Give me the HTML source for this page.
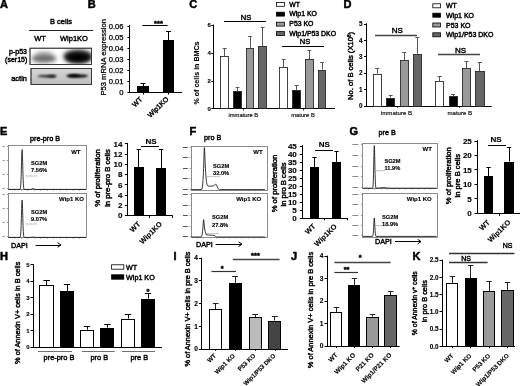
<!DOCTYPE html>
<html lang="en"><head><meta charset="utf-8"><title>Figure</title>
<style>
html,body{margin:0;padding:0;background:#fff;}
body{width:520px;height:386px;overflow:hidden;font-family:"Liberation Sans", Arial, sans-serif;}
svg{display:block;filter:blur(0.3px);}
text{stroke:#000;stroke-width:.42px;}
text[font-weight=bold]{stroke-width:.12px;}
text.thin{stroke-width:.15px;}
text.m{stroke-width:.25px;}
text.pl{stroke-width:.5px;}
text.st{stroke-width:.45px;}
</style></head><body>
<svg width="520" height="386" viewBox="0 0 520 386" font-family='"Liberation Sans", Arial, sans-serif'>
<defs><filter id="b1" x="-20%" y="-50%" width="140%" height="200%"><feGaussianBlur stdDeviation="2"/></filter><filter id="b2" x="-20%" y="-80%" width="140%" height="260%"><feGaussianBlur stdDeviation="0.9"/></filter><clipPath id="c1"><rect x="30" y="48" width="62" height="17"/></clipPath><clipPath id="c2"><rect x="31" y="68.4" width="61" height="16"/></clipPath></defs>
<rect width="520" height="386" fill="#fff"/>
<text x="0" y="8.3" font-size="11" text-anchor="start" font-weight="bold" fill="#000" class="pl">A</text>
<text x="87.8" y="8.3" font-size="11" text-anchor="start" font-weight="bold" fill="#000" class="pl">B</text>
<text x="189.2" y="8.3" font-size="11" text-anchor="start" font-weight="bold" fill="#000" class="pl">C</text>
<text x="343.5" y="8.3" font-size="11" text-anchor="start" font-weight="bold" fill="#000" class="pl">D</text>
<text x="0" y="134.5" font-size="11" text-anchor="start" font-weight="bold" fill="#000" class="pl">E</text>
<text x="189.5" y="134.5" font-size="11" text-anchor="start" font-weight="bold" fill="#000" class="pl">F</text>
<text x="349.5" y="135.1" font-size="11" text-anchor="start" font-weight="bold" fill="#000" class="pl">G</text>
<text x="0" y="260" font-size="11" text-anchor="start" font-weight="bold" fill="#000" class="pl">H</text>
<text x="173.5" y="259.5" font-size="11" text-anchor="start" font-weight="bold" fill="#000" class="pl">I</text>
<text x="291" y="260" font-size="11" text-anchor="start" font-weight="bold" fill="#000" class="pl">J</text>
<text x="412.5" y="260" font-size="11" text-anchor="start" font-weight="bold" fill="#000" class="pl">K</text>
<text x="61" y="23.7" font-size="7.5" text-anchor="middle" font-weight="normal" fill="#000">B cells</text>
<line x1="29" y1="30.5" x2="93" y2="30.5" stroke="#222" stroke-width="1"/>
<text x="40" y="40.6" font-size="7.5" text-anchor="middle" font-weight="normal" fill="#000">WT</text>
<text x="74" y="40.6" font-size="7.5" text-anchor="middle" font-weight="normal" fill="#000">Wip1KO</text>
<text x="27" y="54.1" font-size="7" text-anchor="end" font-weight="normal" fill="#000">p-p53</text>
<text x="27.3" y="62.3" font-size="7" text-anchor="end" font-weight="normal" fill="#000">(ser15)</text>
<text x="27" y="80.5" font-size="7.5" text-anchor="end" font-weight="normal" fill="#000">actin</text>
<rect x="30" y="48.2" width="61.6" height="16.3" fill="#fff" stroke="#333" stroke-width="0.8"/>
<g clip-path="url(#c1)"><ellipse cx="44" cy="54" rx="9" ry="2.5" fill="#bbb" filter="url(#b1)"/><ellipse cx="44" cy="58.5" rx="12.5" ry="4.3" fill="#6a6a6a" filter="url(#b1)"/><ellipse cx="78" cy="56.5" rx="14.5" ry="7" fill="#333" filter="url(#b1)"/><ellipse cx="78" cy="57.5" rx="12" ry="4.5" fill="#000" filter="url(#b1)"/></g>
<rect x="30" y="48.2" width="61.6" height="16.3" fill="none" stroke="#333" stroke-width="0.8"/>
<linearGradient id="g2" x1="0" y1="0" x2="0" y2="1"><stop offset="0" stop-color="#d6d6d6"/><stop offset="1" stop-color="#bdbdbd"/></linearGradient>
<rect x="31" y="68.4" width="60.6" height="16" fill="url(#g2)" stroke="#333" stroke-width="0.8"/>
<g clip-path="url(#c2)"><ellipse cx="47" cy="76.2" rx="9.5" ry="1.2" fill="#222" filter="url(#b2)"/><ellipse cx="52" cy="76.3" rx="4" ry="1.1" fill="#111" filter="url(#b2)"/><ellipse cx="77" cy="76" rx="11" ry="1.6" fill="#000" filter="url(#b2)"/><ellipse cx="74" cy="75.6" rx="6" ry="1.3" fill="#000" filter="url(#b2)"/></g>
<rect x="31" y="68.4" width="60.6" height="16" fill="none" stroke="#333" stroke-width="0.8"/>
<line x1="129.5" y1="25.1" x2="129.5" y2="92.4" stroke="#000" stroke-width="1"/>
<line x1="127.4" y1="26.5" x2="129.4" y2="26.5" stroke="#000" stroke-width="1"/>
<text x="123.5" y="28.736" font-size="7.6" text-anchor="end" font-weight="normal" fill="#000" class="m">0.06</text>
<line x1="127.4" y1="37.5" x2="129.4" y2="37.5" stroke="#000" stroke-width="1"/>
<text x="123.5" y="39.736" font-size="7.6" text-anchor="end" font-weight="normal" fill="#000" class="m">0.05</text>
<line x1="127.4" y1="48.5" x2="129.4" y2="48.5" stroke="#000" stroke-width="1"/>
<text x="123.5" y="50.736" font-size="7.6" text-anchor="end" font-weight="normal" fill="#000" class="m">0.04</text>
<line x1="127.4" y1="59.5" x2="129.4" y2="59.5" stroke="#000" stroke-width="1"/>
<text x="123.5" y="61.736" font-size="7.6" text-anchor="end" font-weight="normal" fill="#000" class="m">0.03</text>
<line x1="127.4" y1="70.5" x2="129.4" y2="70.5" stroke="#000" stroke-width="1"/>
<text x="123.5" y="72.736" font-size="7.6" text-anchor="end" font-weight="normal" fill="#000" class="m">0.02</text>
<line x1="127.4" y1="81.5" x2="129.4" y2="81.5" stroke="#000" stroke-width="1"/>
<text x="123.5" y="83.736" font-size="7.6" text-anchor="end" font-weight="normal" fill="#000" class="m">0.01</text>
<line x1="127.4" y1="92.5" x2="129.4" y2="92.5" stroke="#000" stroke-width="1"/>
<text x="123.5" y="94.736" font-size="7.6" text-anchor="end" font-weight="normal" fill="#000" class="m">0</text>
<line x1="129" y1="92.5" x2="182" y2="92.5" stroke="#000" stroke-width="1"/>
<line x1="143.5" y1="92" x2="143.5" y2="94.5" stroke="#000" stroke-width="1"/>
<line x1="168.5" y1="92" x2="168.5" y2="94.5" stroke="#000" stroke-width="1"/>
<line x1="143.5" y1="86.4" x2="143.5" y2="83.4" stroke="#000" stroke-width="1"/>
<line x1="140.48" y1="83.5" x2="145.52" y2="83.5" stroke="#000" stroke-width="1"/>
<rect x="137.5" y="86.5" width="11.0" height="6.0" fill="#000" stroke="#000" stroke-width="1"/>
<line x1="168.5" y1="40" x2="168.5" y2="31" stroke="#000" stroke-width="1"/>
<line x1="166.025" y1="31.5" x2="170.975" y2="31.5" stroke="#000" stroke-width="1"/>
<rect x="163.5" y="40.5" width="10.0" height="52.0" fill="#000" stroke="#000" stroke-width="1"/>
<line x1="142.4" y1="25.5" x2="167.6" y2="25.5" stroke="#000" stroke-width="1"/>
<text x="158.5" y="26.4" font-size="7.5" text-anchor="middle" font-weight="bold" fill="#000" class="st">***</text>
<text x="103.3" y="57.3" font-size="7.6" text-anchor="middle" font-weight="normal" transform="rotate(-90 103.3 57.3)" dy="2.74" class="m">P53 mRNA expression</text>
<text x="142.7" y="99.8" font-size="7" text-anchor="end" font-weight="normal" transform="rotate(-45 142.7 99.8)">WT</text>
<text x="169" y="99.6" font-size="7" text-anchor="end" font-weight="normal" transform="rotate(-45 169 99.6)">Wip1KO</text>
<line x1="213.5" y1="24.6" x2="213.5" y2="109.0" stroke="#000" stroke-width="1"/>
<line x1="211.3" y1="25.5" x2="213.3" y2="25.5" stroke="#000" stroke-width="1"/>
<text x="210.8" y="27.16" font-size="6" text-anchor="end" font-weight="bold" fill="#000">6</text>
<line x1="211.3" y1="53.5" x2="213.3" y2="53.5" stroke="#000" stroke-width="1"/>
<text x="210.8" y="55.16" font-size="6" text-anchor="end" font-weight="bold" fill="#000">4</text>
<line x1="211.3" y1="81.5" x2="213.3" y2="81.5" stroke="#000" stroke-width="1"/>
<text x="210.8" y="83.16" font-size="6" text-anchor="end" font-weight="bold" fill="#000">2</text>
<line x1="211.3" y1="108.5" x2="213.3" y2="108.5" stroke="#000" stroke-width="1"/>
<text x="210.8" y="110.75999999999999" font-size="6" text-anchor="end" font-weight="bold" fill="#000">0</text>
<line x1="212.2" y1="108.5" x2="335" y2="108.5" stroke="#000" stroke-width="1"/>
<line x1="243.5" y1="108.6" x2="243.5" y2="110.6" stroke="#000" stroke-width="0.7"/>
<line x1="303.5" y1="108.6" x2="303.5" y2="110.6" stroke="#000" stroke-width="0.7"/>
<line x1="224.5" y1="56" x2="224.5" y2="48" stroke="#555" stroke-width="1"/>
<line x1="222.765" y1="48.5" x2="226.635" y2="48.5" stroke="#555" stroke-width="1"/>
<rect x="220.5" y="56.5" width="8.0" height="52.0" fill="#fff" stroke="#222" stroke-width="0.85"/>
<line x1="237.5" y1="91" x2="237.5" y2="87.6" stroke="#555" stroke-width="1"/>
<line x1="235.655" y1="87.5" x2="239.345" y2="87.5" stroke="#555" stroke-width="1"/>
<rect x="233.5" y="91.5" width="8.0" height="17.0" fill="#000" stroke="#222" stroke-width="0.85"/>
<line x1="250.5" y1="47.6" x2="250.5" y2="36" stroke="#555" stroke-width="1"/>
<line x1="248.02" y1="36.5" x2="251.98" y2="36.5" stroke="#555" stroke-width="1"/>
<rect x="246.5" y="48.5" width="7.0" height="60.0" fill="#999" stroke="#222" stroke-width="0.85"/>
<line x1="262.5" y1="46.4" x2="262.5" y2="27.6" stroke="#555" stroke-width="1"/>
<line x1="260.765" y1="27.5" x2="264.635" y2="27.5" stroke="#555" stroke-width="1"/>
<rect x="258.5" y="46.5" width="8.0" height="62.0" fill="#666" stroke="#222" stroke-width="0.85"/>
<line x1="283.5" y1="67" x2="283.5" y2="59" stroke="#555" stroke-width="1"/>
<line x1="281.765" y1="59.5" x2="285.635" y2="59.5" stroke="#555" stroke-width="1"/>
<rect x="279.5" y="67.5" width="8.0" height="41.0" fill="#fff" stroke="#222" stroke-width="0.85"/>
<line x1="296.5" y1="90" x2="296.5" y2="85.6" stroke="#555" stroke-width="1"/>
<line x1="294.765" y1="85.5" x2="298.635" y2="85.5" stroke="#555" stroke-width="1"/>
<rect x="292.5" y="90.5" width="8.0" height="18.0" fill="#000" stroke="#222" stroke-width="0.85"/>
<line x1="309.5" y1="59" x2="309.5" y2="50.4" stroke="#555" stroke-width="1"/>
<line x1="307.365" y1="50.5" x2="311.235" y2="50.5" stroke="#555" stroke-width="1"/>
<rect x="305.5" y="59.5" width="8.0" height="49.0" fill="#999" stroke="#222" stroke-width="0.85"/>
<line x1="322.5" y1="69.6" x2="322.5" y2="62" stroke="#555" stroke-width="1"/>
<line x1="320.02" y1="62.5" x2="323.98" y2="62.5" stroke="#555" stroke-width="1"/>
<rect x="318.5" y="70.5" width="7.0" height="38.0" fill="#666" stroke="#222" stroke-width="0.85"/>
<line x1="224" y1="21.5" x2="266" y2="21.5" stroke="#000" stroke-width="1"/>
<text x="246" y="19.6" font-size="7.5" text-anchor="middle" font-weight="normal" fill="#000">NS</text>
<line x1="282" y1="46.5" x2="324" y2="46.5" stroke="#000" stroke-width="1"/>
<text x="305" y="44.4" font-size="7.5" text-anchor="middle" font-weight="normal" fill="#000">NS</text>
<text x="243.3" y="117" font-size="5.8" text-anchor="middle" font-weight="normal" fill="#000" class="thin">immature B</text>
<text x="303" y="117" font-size="5.8" text-anchor="middle" font-weight="normal" fill="#000" class="thin">mature B</text>
<text x="196.9" y="73" font-size="7.1" text-anchor="middle" font-weight="bold" transform="rotate(-90 196.9 73)" dy="2.56">% of cells in BMCs</text>
<rect x="276.4" y="2.4" width="8" height="3.9" fill="#fff" stroke="#000" stroke-width="0.8"/>
<text x="289.3" y="6.6" font-size="6.9" text-anchor="start" font-weight="normal" fill="#000">WT</text>
<rect x="276.4" y="12.2" width="8" height="3.9" fill="#000" stroke="#000" stroke-width="0.8"/>
<text x="289.3" y="16.4" font-size="6.9" text-anchor="start" font-weight="normal" fill="#000">Wip1 KO</text>
<rect x="276.4" y="22.2" width="8" height="3.9" fill="#999" stroke="#000" stroke-width="0.8"/>
<text x="289.3" y="26.3" font-size="6.9" text-anchor="start" font-weight="normal" fill="#000">P53 KO</text>
<rect x="276.4" y="31.6" width="8" height="3.9" fill="#666" stroke="#000" stroke-width="0.8"/>
<text x="289.3" y="35.6" font-size="6.9" text-anchor="start" font-weight="normal" fill="#000">Wip1/P53 DKO</text>
<line x1="366.5" y1="23.200000000000003" x2="366.5" y2="106.4" stroke="#000" stroke-width="1"/>
<line x1="364" y1="24.5" x2="366" y2="24.5" stroke="#000" stroke-width="1"/>
<text x="362.4" y="26.268" font-size="6.3" text-anchor="end" font-weight="bold" fill="#000">5</text>
<line x1="364" y1="40.5" x2="366" y2="40.5" stroke="#000" stroke-width="1"/>
<text x="362.4" y="42.668" font-size="6.3" text-anchor="end" font-weight="bold" fill="#000">4</text>
<line x1="364" y1="56.5" x2="366" y2="56.5" stroke="#000" stroke-width="1"/>
<text x="362.4" y="59.068" font-size="6.3" text-anchor="end" font-weight="bold" fill="#000">3</text>
<line x1="364" y1="73.5" x2="366" y2="73.5" stroke="#000" stroke-width="1"/>
<text x="362.4" y="75.46799999999999" font-size="6.3" text-anchor="end" font-weight="bold" fill="#000">2</text>
<line x1="364" y1="89.5" x2="366" y2="89.5" stroke="#000" stroke-width="1"/>
<text x="362.4" y="91.868" font-size="6.3" text-anchor="end" font-weight="bold" fill="#000">1</text>
<line x1="364" y1="106.5" x2="366" y2="106.5" stroke="#000" stroke-width="1"/>
<text x="362.4" y="108.268" font-size="6.3" text-anchor="end" font-weight="bold" fill="#000">0</text>
<line x1="365.6" y1="106.5" x2="491.6" y2="106.5" stroke="#000" stroke-width="1"/>
<line x1="397.5" y1="106" x2="397.5" y2="108" stroke="#000" stroke-width="0.7"/>
<line x1="459.5" y1="106" x2="459.5" y2="108" stroke="#000" stroke-width="0.7"/>
<line x1="377.5" y1="73.5" x2="377.5" y2="68.4" stroke="#555" stroke-width="1"/>
<line x1="375.085" y1="68.5" x2="379.315" y2="68.5" stroke="#555" stroke-width="1"/>
<rect x="373.5" y="74.5" width="8.0" height="32.0" fill="#fff" stroke="#222" stroke-width="0.85"/>
<line x1="390.5" y1="97.6" x2="390.5" y2="95.6" stroke="#555" stroke-width="1"/>
<line x1="388.765" y1="95.5" x2="392.635" y2="95.5" stroke="#555" stroke-width="1"/>
<rect x="386.5" y="98.5" width="8.0" height="8.0" fill="#000" stroke="#222" stroke-width="0.85"/>
<line x1="404.5" y1="60" x2="404.5" y2="52" stroke="#555" stroke-width="1"/>
<line x1="402.05749999999995" y1="52.5" x2="406.2425" y2="52.5" stroke="#555" stroke-width="1"/>
<rect x="400.5" y="60.5" width="8.0" height="46.0" fill="#999" stroke="#222" stroke-width="0.85"/>
<line x1="417.5" y1="53.6" x2="417.5" y2="37" stroke="#555" stroke-width="1"/>
<line x1="415.41999999999996" y1="37.5" x2="419.38" y2="37.5" stroke="#555" stroke-width="1"/>
<rect x="413.5" y="54.5" width="8.0" height="52.0" fill="#666" stroke="#222" stroke-width="0.85"/>
<line x1="439.5" y1="81" x2="439.5" y2="76" stroke="#555" stroke-width="1"/>
<line x1="437.585" y1="76.5" x2="441.815" y2="76.5" stroke="#555" stroke-width="1"/>
<rect x="435.5" y="81.5" width="8.0" height="25.0" fill="#fff" stroke="#222" stroke-width="0.85"/>
<line x1="453.5" y1="96.4" x2="453.5" y2="94.4" stroke="#555" stroke-width="1"/>
<line x1="451.07500000000005" y1="94.5" x2="455.125" y2="94.5" stroke="#555" stroke-width="1"/>
<rect x="449.5" y="96.5" width="8.0" height="10.0" fill="#000" stroke="#222" stroke-width="0.85"/>
<line x1="466.5" y1="68.4" x2="466.5" y2="61.2" stroke="#555" stroke-width="1"/>
<line x1="464.475" y1="61.5" x2="468.525" y2="61.5" stroke="#555" stroke-width="1"/>
<rect x="462.5" y="68.5" width="8.0" height="38.0" fill="#999" stroke="#222" stroke-width="0.85"/>
<line x1="479.5" y1="71" x2="479.5" y2="62.6" stroke="#555" stroke-width="1"/>
<line x1="477.78499999999997" y1="62.5" x2="482.015" y2="62.5" stroke="#555" stroke-width="1"/>
<rect x="475.5" y="71.5" width="9.0" height="35.0" fill="#666" stroke="#222" stroke-width="0.85"/>
<line x1="375" y1="35.5" x2="417" y2="35.5" stroke="#444" stroke-width="1.5"/>
<text x="397.4" y="32.8" font-size="8" text-anchor="middle" font-weight="normal" fill="#000">NS</text>
<line x1="438" y1="54.5" x2="480" y2="54.5" stroke="#444" stroke-width="1.5"/>
<text x="460.6" y="53.2" font-size="8" text-anchor="middle" font-weight="normal" fill="#000">NS</text>
<text x="396.5" y="114.6" font-size="6.1" text-anchor="middle" font-weight="normal" fill="#000" class="thin">immature B</text>
<text x="459.8" y="114.6" font-size="6.1" text-anchor="middle" font-weight="normal" fill="#000" class="thin">mature B</text>
<text x="350.8" y="66" font-size="7.6" text-anchor="middle" transform="rotate(-90 350.8 66)" dy="2.6">No. of B cells (X10<tspan font-size="4.5" dy="-2.5">6</tspan><tspan dy="2.5">)</tspan></text>
<rect x="432.8" y="3.8" width="7.8" height="4" fill="#fff" stroke="#000" stroke-width="0.8"/>
<text x="446" y="8.1" font-size="7" text-anchor="start" font-weight="normal" fill="#000">WT</text>
<rect x="432.8" y="13.2" width="7.8" height="4" fill="#000" stroke="#000" stroke-width="0.8"/>
<text x="446" y="17.6" font-size="7" text-anchor="start" font-weight="normal" fill="#000">Wip1 KO</text>
<rect x="432.8" y="23" width="7.8" height="4" fill="#999" stroke="#000" stroke-width="0.8"/>
<text x="446" y="27.5" font-size="7" text-anchor="start" font-weight="normal" fill="#000">P53 KO</text>
<rect x="432.8" y="32.8" width="7.8" height="4" fill="#666" stroke="#000" stroke-width="0.8"/>
<text x="446" y="37.1" font-size="7" text-anchor="start" font-weight="normal" fill="#000">Wip1/P53 DKO</text>
<text x="45" y="140.5" font-size="7.2" text-anchor="middle" font-weight="normal" fill="#000">pre-pro B</text>
<rect x="8.5" y="145.5" width="78" height="44" fill="#fff" stroke="#808080" stroke-width="0.9"/>
<line x1="2.5" y1="146.5" x2="4.8" y2="146.5" stroke="#999" stroke-width="1"/>
<line x1="6.6" y1="146.5" x2="8" y2="146.5" stroke="#666" stroke-width="0.6"/>
<line x1="2.5" y1="160.5" x2="4.8" y2="160.5" stroke="#999" stroke-width="1"/>
<line x1="6.6" y1="160.5" x2="8" y2="160.5" stroke="#666" stroke-width="0.6"/>
<line x1="2.5" y1="174.5" x2="4.8" y2="174.5" stroke="#999" stroke-width="1"/>
<line x1="6.6" y1="174.5" x2="8" y2="174.5" stroke="#666" stroke-width="0.6"/>
<line x1="2.5" y1="188.5" x2="4.8" y2="188.5" stroke="#999" stroke-width="1"/>
<line x1="6.6" y1="188.5" x2="8" y2="188.5" stroke="#666" stroke-width="0.6"/>
<line x1="14.5" y1="190" x2="14.5" y2="191" stroke="#777" stroke-width="0.5"/>
<line x1="21.5" y1="190" x2="21.5" y2="191" stroke="#777" stroke-width="0.5"/>
<line x1="27.5" y1="190" x2="27.5" y2="191" stroke="#777" stroke-width="0.5"/>
<line x1="34.5" y1="190" x2="34.5" y2="191" stroke="#777" stroke-width="0.5"/>
<line x1="40.5" y1="190" x2="40.5" y2="191" stroke="#777" stroke-width="0.5"/>
<line x1="47.5" y1="190" x2="47.5" y2="191" stroke="#777" stroke-width="0.5"/>
<line x1="53.5" y1="190" x2="53.5" y2="191" stroke="#777" stroke-width="0.5"/>
<line x1="60.5" y1="190" x2="60.5" y2="191" stroke="#777" stroke-width="0.5"/>
<line x1="66.5" y1="190" x2="66.5" y2="191" stroke="#777" stroke-width="0.5"/>
<line x1="73.5" y1="190" x2="73.5" y2="191" stroke="#777" stroke-width="0.5"/>
<line x1="79.5" y1="190" x2="79.5" y2="191" stroke="#777" stroke-width="0.5"/>
<path d="M8.5 189.4 L20.1 189.4 C21.35 189.4 21.5375 149.6 22.1 149.6 C22.6625 149.6 22.85 189.4 24.1 189.4 L31 189.4 Q33 187.8 35.5 189.4 L86 189.4" fill="none" stroke="#111" stroke-width="0.85" stroke-linejoin="round"/>
<line x1="25.6" y1="176" x2="37" y2="176" stroke="#888" stroke-width="0.6" stroke-dasharray="3 0.4"/>
<text x="80.5" y="153.8" font-size="6" text-anchor="end" font-weight="bold" fill="#000">WT</text>
<text x="31" y="165" font-size="5.7" text-anchor="start" font-weight="bold" fill="#000">SG2M</text>
<text x="31" y="172.2" font-size="5.7" text-anchor="start" font-weight="bold" fill="#000">7.56%</text>
<rect x="8.5" y="193.5" width="78" height="44" fill="#fff" stroke="#808080" stroke-width="0.9"/>
<line x1="2.5" y1="194.5" x2="4.8" y2="194.5" stroke="#999" stroke-width="1"/>
<line x1="6.6" y1="194.5" x2="8" y2="194.5" stroke="#666" stroke-width="0.6"/>
<line x1="2.5" y1="208.5" x2="4.8" y2="208.5" stroke="#999" stroke-width="1"/>
<line x1="6.6" y1="208.5" x2="8" y2="208.5" stroke="#666" stroke-width="0.6"/>
<line x1="2.5" y1="222.5" x2="4.8" y2="222.5" stroke="#999" stroke-width="1"/>
<line x1="6.6" y1="222.5" x2="8" y2="222.5" stroke="#666" stroke-width="0.6"/>
<line x1="2.5" y1="236.5" x2="4.8" y2="236.5" stroke="#999" stroke-width="1"/>
<line x1="6.6" y1="236.5" x2="8" y2="236.5" stroke="#666" stroke-width="0.6"/>
<line x1="14.5" y1="238" x2="14.5" y2="239" stroke="#777" stroke-width="0.5"/>
<line x1="21.5" y1="238" x2="21.5" y2="239" stroke="#777" stroke-width="0.5"/>
<line x1="27.5" y1="238" x2="27.5" y2="239" stroke="#777" stroke-width="0.5"/>
<line x1="34.5" y1="238" x2="34.5" y2="239" stroke="#777" stroke-width="0.5"/>
<line x1="40.5" y1="238" x2="40.5" y2="239" stroke="#777" stroke-width="0.5"/>
<line x1="47.5" y1="238" x2="47.5" y2="239" stroke="#777" stroke-width="0.5"/>
<line x1="53.5" y1="238" x2="53.5" y2="239" stroke="#777" stroke-width="0.5"/>
<line x1="60.5" y1="238" x2="60.5" y2="239" stroke="#777" stroke-width="0.5"/>
<line x1="66.5" y1="238" x2="66.5" y2="239" stroke="#777" stroke-width="0.5"/>
<line x1="73.5" y1="238" x2="73.5" y2="239" stroke="#777" stroke-width="0.5"/>
<line x1="79.5" y1="238" x2="79.5" y2="239" stroke="#777" stroke-width="0.5"/>
<path d="M8.5 237.4 L20.1 237.4 C21.35 237.4 21.5375 200 22.1 200 C22.6625 200 22.85 237.4 24.1 237.4 L31 237.4 Q33 236.6 35.5 237.4 L86 237.4" fill="none" stroke="#111" stroke-width="0.85" stroke-linejoin="round"/>
<line x1="25.6" y1="224" x2="37" y2="224" stroke="#888" stroke-width="0.6" stroke-dasharray="3 0.4"/>
<text x="84" y="200.6" font-size="6" text-anchor="end" font-weight="bold" fill="#000">Wip1 KO</text>
<text x="31" y="213.6" font-size="5.7" text-anchor="start" font-weight="bold" fill="#000">SG2M</text>
<text x="31" y="220.79999999999998" font-size="5.7" text-anchor="start" font-weight="bold" fill="#000">9.07%</text>
<text x="11" y="247.6" font-size="7.2" text-anchor="start" font-weight="normal" fill="#000">DAPI</text>
<line x1="35.6" y1="245.5" x2="61" y2="245.5" stroke="#000" stroke-width="1"/>
<path d="M57.6 242.7 L61 245 L57.6 247.3" fill="none" stroke="#000" stroke-width="1"/>
<text x="212.6" y="140" font-size="7.2" text-anchor="middle" font-weight="normal" fill="#000">pro B</text>
<rect x="191.5" y="146.5" width="76" height="44" fill="#fff" stroke="#808080" stroke-width="0.9"/>
<line x1="183" y1="147.5" x2="187.8" y2="147.5" stroke="#555" stroke-width="1"/>
<line x1="189.6" y1="147.5" x2="191" y2="147.5" stroke="#666" stroke-width="0.6"/>
<line x1="183" y1="157.5" x2="187.8" y2="157.5" stroke="#555" stroke-width="1"/>
<line x1="189.6" y1="157.5" x2="191" y2="157.5" stroke="#666" stroke-width="0.6"/>
<line x1="183" y1="168.5" x2="187.8" y2="168.5" stroke="#555" stroke-width="1"/>
<line x1="189.6" y1="168.5" x2="191" y2="168.5" stroke="#666" stroke-width="0.6"/>
<line x1="183" y1="178.5" x2="187.8" y2="178.5" stroke="#555" stroke-width="1"/>
<line x1="189.6" y1="178.5" x2="191" y2="178.5" stroke="#666" stroke-width="0.6"/>
<line x1="183" y1="189.5" x2="187.8" y2="189.5" stroke="#555" stroke-width="1"/>
<line x1="189.6" y1="189.5" x2="191" y2="189.5" stroke="#666" stroke-width="0.6"/>
<line x1="197.5" y1="190.2" x2="197.5" y2="191.2" stroke="#777" stroke-width="0.5"/>
<line x1="203.5" y1="190.2" x2="203.5" y2="191.2" stroke="#777" stroke-width="0.5"/>
<line x1="210.5" y1="190.2" x2="210.5" y2="191.2" stroke="#777" stroke-width="0.5"/>
<line x1="216.5" y1="190.2" x2="216.5" y2="191.2" stroke="#777" stroke-width="0.5"/>
<line x1="222.5" y1="190.2" x2="222.5" y2="191.2" stroke="#777" stroke-width="0.5"/>
<line x1="229.5" y1="190.2" x2="229.5" y2="191.2" stroke="#777" stroke-width="0.5"/>
<line x1="235.5" y1="190.2" x2="235.5" y2="191.2" stroke="#777" stroke-width="0.5"/>
<line x1="241.5" y1="190.2" x2="241.5" y2="191.2" stroke="#777" stroke-width="0.5"/>
<line x1="248.5" y1="190.2" x2="248.5" y2="191.2" stroke="#777" stroke-width="0.5"/>
<line x1="254.5" y1="190.2" x2="254.5" y2="191.2" stroke="#777" stroke-width="0.5"/>
<line x1="260.5" y1="190.2" x2="260.5" y2="191.2" stroke="#777" stroke-width="0.5"/>
<path d="M191.5 189.6 L201.6 189.6 C203.6 189.6 203.95 147.6 204.4 147.6 C204.85 147.6 205.2 181 207.4 185.6 C209 186.6 212 186 213.5 185.8 C214.6 185.4 215 184.2 215.8 184.2 C217 184.2 217.4 189.6 219.4 189.6 L265 189.6" fill="none" stroke="#111" stroke-width="0.85" stroke-linejoin="round"/>
<line x1="207" y1="176.6" x2="220" y2="176.6" stroke="#888" stroke-width="0.6" stroke-dasharray="3 0.4"/>
<text x="262.6" y="153.8" font-size="6" text-anchor="end" font-weight="bold" fill="#000">WT</text>
<text x="213" y="167.6" font-size="5.7" text-anchor="start" font-weight="bold" fill="#000">SG2M</text>
<text x="213" y="174.79999999999998" font-size="5.7" text-anchor="start" font-weight="bold" fill="#000">32.0%</text>
<rect x="191.5" y="193.5" width="76" height="44" fill="#fff" stroke="#808080" stroke-width="0.9"/>
<line x1="183" y1="194.5" x2="187.8" y2="194.5" stroke="#555" stroke-width="1"/>
<line x1="189.6" y1="194.5" x2="191" y2="194.5" stroke="#666" stroke-width="0.6"/>
<line x1="183" y1="205.5" x2="187.8" y2="205.5" stroke="#555" stroke-width="1"/>
<line x1="189.6" y1="205.5" x2="191" y2="205.5" stroke="#666" stroke-width="0.6"/>
<line x1="183" y1="215.5" x2="187.8" y2="215.5" stroke="#555" stroke-width="1"/>
<line x1="189.6" y1="215.5" x2="191" y2="215.5" stroke="#666" stroke-width="0.6"/>
<line x1="183" y1="226.5" x2="187.8" y2="226.5" stroke="#555" stroke-width="1"/>
<line x1="189.6" y1="226.5" x2="191" y2="226.5" stroke="#666" stroke-width="0.6"/>
<line x1="183" y1="236.5" x2="187.8" y2="236.5" stroke="#555" stroke-width="1"/>
<line x1="189.6" y1="236.5" x2="191" y2="236.5" stroke="#666" stroke-width="0.6"/>
<line x1="197.5" y1="237.6" x2="197.5" y2="238.6" stroke="#777" stroke-width="0.5"/>
<line x1="203.5" y1="237.6" x2="203.5" y2="238.6" stroke="#777" stroke-width="0.5"/>
<line x1="210.5" y1="237.6" x2="210.5" y2="238.6" stroke="#777" stroke-width="0.5"/>
<line x1="216.5" y1="237.6" x2="216.5" y2="238.6" stroke="#777" stroke-width="0.5"/>
<line x1="222.5" y1="237.6" x2="222.5" y2="238.6" stroke="#777" stroke-width="0.5"/>
<line x1="229.5" y1="237.6" x2="229.5" y2="238.6" stroke="#777" stroke-width="0.5"/>
<line x1="235.5" y1="237.6" x2="235.5" y2="238.6" stroke="#777" stroke-width="0.5"/>
<line x1="241.5" y1="237.6" x2="241.5" y2="238.6" stroke="#777" stroke-width="0.5"/>
<line x1="248.5" y1="237.6" x2="248.5" y2="238.6" stroke="#777" stroke-width="0.5"/>
<line x1="254.5" y1="237.6" x2="254.5" y2="238.6" stroke="#777" stroke-width="0.5"/>
<line x1="260.5" y1="237.6" x2="260.5" y2="238.6" stroke="#777" stroke-width="0.5"/>
<path d="M191.5 237 L201 237 C202.9 237 203.2 219.6 203.6 219.6 C204.0 219.6 204.4 232.6 206.4 234.8 C209 235.4 212 235 214 235.4 C215.4 235.8 215.8 237 217.5 237 L265 237" fill="none" stroke="#111" stroke-width="0.85" stroke-linejoin="round"/>
<line x1="206" y1="233.6" x2="219" y2="233.6" stroke="#888" stroke-width="0.6" stroke-dasharray="3 0.4"/>
<text x="261.2" y="201.2" font-size="6" text-anchor="end" font-weight="bold" fill="#000">Wip1 KO</text>
<text x="212" y="219.4" font-size="5.7" text-anchor="start" font-weight="bold" fill="#000">SG2M</text>
<text x="212" y="226.6" font-size="5.7" text-anchor="start" font-weight="bold" fill="#000">27.8%</text>
<text x="196" y="247" font-size="7.2" text-anchor="start" font-weight="normal" fill="#000">DAPI</text>
<line x1="215.6" y1="244.5" x2="242" y2="244.5" stroke="#000" stroke-width="1"/>
<path d="M238.6 241.89999999999998 L242 244.2 L238.6 246.5" fill="none" stroke="#000" stroke-width="1"/>
<text x="387.2" y="135" font-size="7.2" text-anchor="middle" font-weight="normal" fill="#000">pre B</text>
<rect x="362.5" y="143.5" width="75" height="45" fill="#fff" stroke="#808080" stroke-width="0.9"/>
<line x1="352.4" y1="144.5" x2="358.4" y2="144.5" stroke="#8a8a8a" stroke-width="1"/>
<line x1="361.0" y1="144.5" x2="362.4" y2="144.5" stroke="#666" stroke-width="0.6"/>
<line x1="352.4" y1="155.5" x2="358.4" y2="155.5" stroke="#8a8a8a" stroke-width="1"/>
<line x1="361.0" y1="155.5" x2="362.4" y2="155.5" stroke="#666" stroke-width="0.6"/>
<line x1="352.4" y1="166.5" x2="358.4" y2="166.5" stroke="#8a8a8a" stroke-width="1"/>
<line x1="361.0" y1="166.5" x2="362.4" y2="166.5" stroke="#666" stroke-width="0.6"/>
<line x1="352.4" y1="176.5" x2="358.4" y2="176.5" stroke="#8a8a8a" stroke-width="1"/>
<line x1="361.0" y1="176.5" x2="362.4" y2="176.5" stroke="#666" stroke-width="0.6"/>
<line x1="352.4" y1="187.5" x2="358.4" y2="187.5" stroke="#8a8a8a" stroke-width="1"/>
<line x1="361.0" y1="187.5" x2="362.4" y2="187.5" stroke="#666" stroke-width="0.6"/>
<line x1="368.5" y1="188.8" x2="368.5" y2="189.8" stroke="#777" stroke-width="0.5"/>
<line x1="374.5" y1="188.8" x2="374.5" y2="189.8" stroke="#777" stroke-width="0.5"/>
<line x1="381.5" y1="188.8" x2="381.5" y2="189.8" stroke="#777" stroke-width="0.5"/>
<line x1="387.5" y1="188.8" x2="387.5" y2="189.8" stroke="#777" stroke-width="0.5"/>
<line x1="393.5" y1="188.8" x2="393.5" y2="189.8" stroke="#777" stroke-width="0.5"/>
<line x1="399.5" y1="188.8" x2="399.5" y2="189.8" stroke="#777" stroke-width="0.5"/>
<line x1="405.5" y1="188.8" x2="405.5" y2="189.8" stroke="#777" stroke-width="0.5"/>
<line x1="412.5" y1="188.8" x2="412.5" y2="189.8" stroke="#777" stroke-width="0.5"/>
<line x1="418.5" y1="188.8" x2="418.5" y2="189.8" stroke="#777" stroke-width="0.5"/>
<line x1="424.5" y1="188.8" x2="424.5" y2="189.8" stroke="#777" stroke-width="0.5"/>
<line x1="430.5" y1="188.8" x2="430.5" y2="189.8" stroke="#777" stroke-width="0.5"/>
<path d="M362.9 188.2 L372.62 188.2 C373.67 188.2 373.8275 145.6 374.3 145.6 C374.77250000000004 145.6 374.93 188.2 375.98 188.2 L380 187.89999999999998 L384 187.6 L388 188.2 L436.5 188.2" fill="none" stroke="#111" stroke-width="0.85" stroke-linejoin="round"/>
<line x1="376" y1="170.8" x2="385" y2="170.8" stroke="#888" stroke-width="0.6" stroke-dasharray="3 0.4"/>
<text x="431.8" y="150.8" font-size="6" text-anchor="end" font-weight="bold" fill="#000">WT</text>
<text x="384.4" y="163" font-size="5.7" text-anchor="start" font-weight="bold" fill="#000">SG2M</text>
<text x="384.4" y="170.2" font-size="5.7" text-anchor="start" font-weight="bold" fill="#000">11.9%</text>
<rect x="362.5" y="193.5" width="75" height="44" fill="#fff" stroke="#808080" stroke-width="0.9"/>
<line x1="352.4" y1="194.5" x2="358.4" y2="194.5" stroke="#8a8a8a" stroke-width="1"/>
<line x1="361.0" y1="194.5" x2="362.4" y2="194.5" stroke="#666" stroke-width="0.6"/>
<line x1="352.4" y1="204.5" x2="358.4" y2="204.5" stroke="#8a8a8a" stroke-width="1"/>
<line x1="361.0" y1="204.5" x2="362.4" y2="204.5" stroke="#666" stroke-width="0.6"/>
<line x1="352.4" y1="215.5" x2="358.4" y2="215.5" stroke="#8a8a8a" stroke-width="1"/>
<line x1="361.0" y1="215.5" x2="362.4" y2="215.5" stroke="#666" stroke-width="0.6"/>
<line x1="352.4" y1="225.5" x2="358.4" y2="225.5" stroke="#8a8a8a" stroke-width="1"/>
<line x1="361.0" y1="225.5" x2="362.4" y2="225.5" stroke="#666" stroke-width="0.6"/>
<line x1="352.4" y1="235.5" x2="358.4" y2="235.5" stroke="#8a8a8a" stroke-width="1"/>
<line x1="361.0" y1="235.5" x2="362.4" y2="235.5" stroke="#666" stroke-width="0.6"/>
<line x1="368.5" y1="237" x2="368.5" y2="238" stroke="#777" stroke-width="0.5"/>
<line x1="374.5" y1="237" x2="374.5" y2="238" stroke="#777" stroke-width="0.5"/>
<line x1="381.5" y1="237" x2="381.5" y2="238" stroke="#777" stroke-width="0.5"/>
<line x1="387.5" y1="237" x2="387.5" y2="238" stroke="#777" stroke-width="0.5"/>
<line x1="393.5" y1="237" x2="393.5" y2="238" stroke="#777" stroke-width="0.5"/>
<line x1="399.5" y1="237" x2="399.5" y2="238" stroke="#777" stroke-width="0.5"/>
<line x1="405.5" y1="237" x2="405.5" y2="238" stroke="#777" stroke-width="0.5"/>
<line x1="412.5" y1="237" x2="412.5" y2="238" stroke="#777" stroke-width="0.5"/>
<line x1="418.5" y1="237" x2="418.5" y2="238" stroke="#777" stroke-width="0.5"/>
<line x1="424.5" y1="237" x2="424.5" y2="238" stroke="#777" stroke-width="0.5"/>
<line x1="430.5" y1="237" x2="430.5" y2="238" stroke="#777" stroke-width="0.5"/>
<path d="M362.9 236.4 L372.62 236.4 C373.67 236.4 373.8275 218 374.3 218 C374.77250000000004 218 374.93 236.4 375.98 236.4 L436.5 236.4" fill="none" stroke="#111" stroke-width="0.85" stroke-linejoin="round"/>
<line x1="376" y1="225.6" x2="384" y2="225.6" stroke="#888" stroke-width="0.6" stroke-dasharray="3 0.4"/>
<text x="431.8" y="201.2" font-size="6" text-anchor="end" font-weight="bold" fill="#000">Wip1 KO</text>
<text x="382" y="219" font-size="5.7" text-anchor="start" font-weight="bold" fill="#000">SG2M</text>
<text x="382" y="226.2" font-size="5.7" text-anchor="start" font-weight="bold" fill="#000">18.9%</text>
<text x="375" y="244.2" font-size="7.2" text-anchor="start" font-weight="normal" fill="#000">DAPI</text>
<line x1="395" y1="241.5" x2="421" y2="241.5" stroke="#000" stroke-width="1"/>
<path d="M417.6 239.29999999999998 L421 241.6 L417.6 243.9" fill="none" stroke="#000" stroke-width="1"/>
<line x1="127.5" y1="142.95000000000002" x2="127.5" y2="216.04999999999998" stroke="#000" stroke-width="1"/>
<line x1="124.9" y1="143.5" x2="127.4" y2="143.5" stroke="#000" stroke-width="1"/>
<text x="122.4" y="146.63" font-size="8" text-anchor="end" font-weight="bold" fill="#000">14</text>
<line x1="124.9" y1="154.5" x2="127.4" y2="154.5" stroke="#000" stroke-width="1"/>
<text x="122.4" y="156.88" font-size="8" text-anchor="end" font-weight="bold" fill="#000">12</text>
<line x1="124.9" y1="164.5" x2="127.4" y2="164.5" stroke="#000" stroke-width="1"/>
<text x="122.4" y="167.13" font-size="8" text-anchor="end" font-weight="bold" fill="#000">10</text>
<line x1="124.9" y1="174.5" x2="127.4" y2="174.5" stroke="#000" stroke-width="1"/>
<text x="122.4" y="177.38" font-size="8" text-anchor="end" font-weight="bold" fill="#000">8</text>
<line x1="124.9" y1="184.5" x2="127.4" y2="184.5" stroke="#000" stroke-width="1"/>
<text x="122.4" y="187.63" font-size="8" text-anchor="end" font-weight="bold" fill="#000">6</text>
<line x1="124.9" y1="195.5" x2="127.4" y2="195.5" stroke="#000" stroke-width="1"/>
<text x="122.4" y="197.88" font-size="8" text-anchor="end" font-weight="bold" fill="#000">4</text>
<line x1="124.9" y1="205.5" x2="127.4" y2="205.5" stroke="#000" stroke-width="1"/>
<text x="122.4" y="208.13" font-size="8" text-anchor="end" font-weight="bold" fill="#000">2</text>
<line x1="124.9" y1="215.5" x2="127.4" y2="215.5" stroke="#000" stroke-width="1"/>
<text x="122.4" y="218.38" font-size="8" text-anchor="end" font-weight="bold" fill="#000">0</text>
<line x1="127" y1="215.5" x2="172.8" y2="215.5" stroke="#000" stroke-width="1"/>
<line x1="149.5" y1="215.6" x2="149.5" y2="218" stroke="#000" stroke-width="1"/>
<line x1="172.5" y1="215.6" x2="172.5" y2="218" stroke="#000" stroke-width="1"/>
<line x1="138.5" y1="167.4" x2="138.5" y2="149.6" stroke="#000" stroke-width="1"/>
<line x1="136.64000000000001" y1="149.5" x2="140.96" y2="149.5" stroke="#000" stroke-width="1"/>
<rect x="134.5" y="167.5" width="9.0" height="48.0" fill="#000" stroke="#000" stroke-width="1"/>
<line x1="161.5" y1="168" x2="161.5" y2="149.6" stroke="#000" stroke-width="1"/>
<line x1="158.75" y1="149.5" x2="163.25" y2="149.5" stroke="#000" stroke-width="1"/>
<rect x="156.5" y="168.5" width="9.0" height="47.0" fill="#000" stroke="#000" stroke-width="1"/>
<line x1="141" y1="146.5" x2="159" y2="146.5" stroke="#000" stroke-width="1"/>
<text x="151" y="143.9" font-size="8" text-anchor="middle" font-weight="bold" fill="#000">NS</text>
<text x="97" y="178" font-size="7.7" text-anchor="middle" font-weight="normal" transform="rotate(-90 97 178)" dy="2.77">% of proliferation</text>
<text x="106.8" y="178" font-size="7.7" text-anchor="middle" font-weight="normal" transform="rotate(-90 106.8 178)" dy="2.77">in pre-pro B cells</text>
<text x="140.8" y="224.6" font-size="7.3" text-anchor="end" font-weight="bold" transform="rotate(-45 140.8 224.6)">WT</text>
<text x="162.6" y="224.6" font-size="7.3" text-anchor="end" font-weight="bold" transform="rotate(-45 162.6 224.6)">Wip1KO</text>
<line x1="302.5" y1="145.15" x2="302.5" y2="218.45" stroke="#000" stroke-width="1"/>
<line x1="299.8" y1="146.5" x2="302" y2="146.5" stroke="#000" stroke-width="1"/>
<text x="296.8" y="148.88" font-size="8" text-anchor="end" font-weight="bold" fill="#000">45</text>
<line x1="299.8" y1="154.5" x2="302" y2="154.5" stroke="#000" stroke-width="1"/>
<text x="296.8" y="156.88" font-size="8" text-anchor="end" font-weight="bold" fill="#000">40</text>
<line x1="299.8" y1="162.5" x2="302" y2="162.5" stroke="#000" stroke-width="1"/>
<text x="296.8" y="164.88" font-size="8" text-anchor="end" font-weight="bold" fill="#000">35</text>
<line x1="299.8" y1="170.5" x2="302" y2="170.5" stroke="#000" stroke-width="1"/>
<text x="296.8" y="172.88" font-size="8" text-anchor="end" font-weight="bold" fill="#000">30</text>
<line x1="299.8" y1="178.5" x2="302" y2="178.5" stroke="#000" stroke-width="1"/>
<text x="296.8" y="180.88" font-size="8" text-anchor="end" font-weight="bold" fill="#000">25</text>
<line x1="299.8" y1="186.5" x2="302" y2="186.5" stroke="#000" stroke-width="1"/>
<text x="296.8" y="188.88" font-size="8" text-anchor="end" font-weight="bold" fill="#000">20</text>
<line x1="299.8" y1="194.5" x2="302" y2="194.5" stroke="#000" stroke-width="1"/>
<text x="296.8" y="196.88" font-size="8" text-anchor="end" font-weight="bold" fill="#000">15</text>
<line x1="299.8" y1="202.5" x2="302" y2="202.5" stroke="#000" stroke-width="1"/>
<text x="296.8" y="204.88" font-size="8" text-anchor="end" font-weight="bold" fill="#000">10</text>
<line x1="299.8" y1="210.5" x2="302" y2="210.5" stroke="#000" stroke-width="1"/>
<text x="296.8" y="212.88" font-size="8" text-anchor="end" font-weight="bold" fill="#000">5</text>
<line x1="299.8" y1="218.5" x2="302" y2="218.5" stroke="#000" stroke-width="1"/>
<text x="296.8" y="220.88" font-size="8" text-anchor="end" font-weight="bold" fill="#000">0</text>
<line x1="301.6" y1="218.5" x2="347.7" y2="218.5" stroke="#000" stroke-width="1"/>
<line x1="324.5" y1="218" x2="324.5" y2="220.3" stroke="#000" stroke-width="1"/>
<line x1="347.5" y1="218" x2="347.5" y2="220.3" stroke="#000" stroke-width="1"/>
<line x1="314.5" y1="166.8" x2="314.5" y2="157.6" stroke="#000" stroke-width="1"/>
<line x1="312.385" y1="157.5" x2="316.615" y2="157.5" stroke="#000" stroke-width="1"/>
<rect x="310.5" y="167.5" width="8.0" height="51.0" fill="#000" stroke="#000" stroke-width="1"/>
<line x1="336.5" y1="161.8" x2="336.5" y2="151" stroke="#000" stroke-width="1"/>
<line x1="334.385" y1="151.5" x2="338.615" y2="151.5" stroke="#000" stroke-width="1"/>
<rect x="332.5" y="162.5" width="8.0" height="56.0" fill="#000" stroke="#000" stroke-width="1"/>
<line x1="315" y1="150.5" x2="333" y2="150.5" stroke="#000" stroke-width="1"/>
<text x="324.4" y="146.5" font-size="8" text-anchor="middle" font-weight="bold" fill="#000">NS</text>
<text x="274.4" y="183.5" font-size="7.7" text-anchor="middle" font-weight="normal" transform="rotate(-90 274.4 183.5)" dy="2.77">% of proliferation</text>
<text x="283" y="184.5" font-size="7.7" text-anchor="middle" font-weight="normal" transform="rotate(-90 283 184.5)" dy="2.77">in pro B cells</text>
<text x="316" y="226.8" font-size="7.3" text-anchor="end" font-weight="bold" transform="rotate(-45 316 226.8)">WT</text>
<text x="337.4" y="226.9" font-size="7.3" text-anchor="end" font-weight="bold" transform="rotate(-45 337.4 226.9)">Wip1KO</text>
<line x1="477.5" y1="140.15" x2="477.5" y2="213.85" stroke="#000" stroke-width="1"/>
<line x1="474.5" y1="141.5" x2="477" y2="141.5" stroke="#000" stroke-width="1"/>
<text x="471.8" y="143.88" font-size="8" text-anchor="end" font-weight="bold" fill="#000">25</text>
<line x1="474.5" y1="155.5" x2="477" y2="155.5" stroke="#000" stroke-width="1"/>
<text x="471.8" y="158.32999999999998" font-size="8" text-anchor="end" font-weight="bold" fill="#000">20</text>
<line x1="474.5" y1="169.5" x2="477" y2="169.5" stroke="#000" stroke-width="1"/>
<text x="471.8" y="172.78" font-size="8" text-anchor="end" font-weight="bold" fill="#000">15</text>
<line x1="474.5" y1="184.5" x2="477" y2="184.5" stroke="#000" stroke-width="1"/>
<text x="471.8" y="187.23" font-size="8" text-anchor="end" font-weight="bold" fill="#000">10</text>
<line x1="474.5" y1="198.5" x2="477" y2="198.5" stroke="#000" stroke-width="1"/>
<text x="471.8" y="201.68" font-size="8" text-anchor="end" font-weight="bold" fill="#000">5</text>
<line x1="474.5" y1="213.5" x2="477" y2="213.5" stroke="#000" stroke-width="1"/>
<text x="471.8" y="216.13" font-size="8" text-anchor="end" font-weight="bold" fill="#000">0</text>
<line x1="476.6" y1="213.5" x2="520" y2="213.5" stroke="#000" stroke-width="1"/>
<line x1="499.5" y1="213.4" x2="499.5" y2="215.8" stroke="#000" stroke-width="1"/>
<line x1="488.5" y1="176" x2="488.5" y2="167" stroke="#000" stroke-width="1"/>
<line x1="486.44000000000005" y1="167.5" x2="490.76" y2="167.5" stroke="#000" stroke-width="1"/>
<rect x="484.5" y="176.5" width="8.0" height="37.0" fill="#000" stroke="#000" stroke-width="1"/>
<line x1="509.5" y1="161.5" x2="509.5" y2="147.4" stroke="#000" stroke-width="1"/>
<line x1="506.98499999999996" y1="147.5" x2="511.215" y2="147.5" stroke="#000" stroke-width="1"/>
<rect x="504.5" y="162.5" width="9.0" height="51.0" fill="#000" stroke="#000" stroke-width="1"/>
<line x1="488" y1="145.5" x2="506" y2="145.5" stroke="#000" stroke-width="1"/>
<text x="496" y="142.3" font-size="8" text-anchor="middle" font-weight="bold" fill="#000">NS</text>
<text x="448.2" y="175.7" font-size="7.6" text-anchor="middle" font-weight="normal" transform="rotate(-90 448.2 175.7)" dy="2.74">% of proliferation</text>
<text x="457.4" y="175.7" font-size="7.6" text-anchor="middle" font-weight="normal" transform="rotate(-90 457.4 175.7)" dy="2.74">in pre B cells</text>
<text x="490.4" y="223" font-size="7.3" text-anchor="end" font-weight="bold" transform="rotate(-45 490.4 223)">WT</text>
<text x="510.9" y="222.8" font-size="7.3" text-anchor="end" font-weight="bold" transform="rotate(-45 510.9 222.8)">Wip1KO</text>
<line x1="33.5" y1="264.20000000000005" x2="33.5" y2="347.4" stroke="#000" stroke-width="1"/>
<line x1="30.5" y1="264.5" x2="33" y2="264.5" stroke="#000" stroke-width="1"/>
<text x="29.5" y="266.76000000000005" font-size="6" text-anchor="end" font-weight="bold" fill="#000">5</text>
<line x1="30.5" y1="281.5" x2="33" y2="281.5" stroke="#000" stroke-width="1"/>
<text x="29.5" y="283.26000000000005" font-size="6" text-anchor="end" font-weight="bold" fill="#000">4</text>
<line x1="30.5" y1="297.5" x2="33" y2="297.5" stroke="#000" stroke-width="1"/>
<text x="29.5" y="299.76000000000005" font-size="6" text-anchor="end" font-weight="bold" fill="#000">3</text>
<line x1="30.5" y1="314.5" x2="33" y2="314.5" stroke="#000" stroke-width="1"/>
<text x="29.5" y="316.26000000000005" font-size="6" text-anchor="end" font-weight="bold" fill="#000">2</text>
<line x1="30.5" y1="330.5" x2="33" y2="330.5" stroke="#000" stroke-width="1"/>
<text x="29.5" y="332.76000000000005" font-size="6" text-anchor="end" font-weight="bold" fill="#000">1</text>
<line x1="30.5" y1="347.5" x2="33" y2="347.5" stroke="#000" stroke-width="1"/>
<text x="29.5" y="349.26000000000005" font-size="6" text-anchor="end" font-weight="bold" fill="#000">0</text>
<line x1="32.6" y1="347.5" x2="162" y2="347.5" stroke="#000" stroke-width="1"/>
<line x1="46.5" y1="285" x2="46.5" y2="280.6" stroke="#000" stroke-width="1"/>
<line x1="43.415" y1="280.5" x2="49.98500000000001" y2="280.5" stroke="#000" stroke-width="1"/>
<rect x="39.5" y="285.5" width="14.0" height="62.0" fill="#fff" stroke="#000" stroke-width="1"/>
<line x1="67.5" y1="291" x2="67.5" y2="284.4" stroke="#000" stroke-width="1"/>
<line x1="63.85" y1="284.5" x2="70.15" y2="284.5" stroke="#000" stroke-width="1"/>
<rect x="60.5" y="291.5" width="13.0" height="56.0" fill="#000" stroke="#000" stroke-width="1"/>
<line x1="87.5" y1="329.6" x2="87.5" y2="326.6" stroke="#000" stroke-width="1"/>
<line x1="83.85" y1="326.5" x2="90.15" y2="326.5" stroke="#000" stroke-width="1"/>
<rect x="80.5" y="330.5" width="13.0" height="17.0" fill="#fff" stroke="#000" stroke-width="1"/>
<line x1="107.5" y1="327.6" x2="107.5" y2="324" stroke="#000" stroke-width="1"/>
<line x1="104.25" y1="324.5" x2="110.55000000000001" y2="324.5" stroke="#000" stroke-width="1"/>
<rect x="100.5" y="328.5" width="13.0" height="19.0" fill="#000" stroke="#000" stroke-width="1"/>
<line x1="128.5" y1="318.6" x2="128.5" y2="314" stroke="#000" stroke-width="1"/>
<line x1="124.85" y1="314.5" x2="131.15" y2="314.5" stroke="#000" stroke-width="1"/>
<rect x="121.5" y="319.5" width="13.0" height="28.0" fill="#fff" stroke="#000" stroke-width="1"/>
<line x1="148.5" y1="298.6" x2="148.5" y2="293.6" stroke="#000" stroke-width="1"/>
<line x1="144.85" y1="293.5" x2="151.15" y2="293.5" stroke="#000" stroke-width="1"/>
<rect x="141.5" y="299.5" width="13.0" height="48.0" fill="#000" stroke="#000" stroke-width="1"/>
<text x="148" y="293.9" font-size="7.5" text-anchor="middle" font-weight="bold" fill="#000" class="st">*</text>
<line x1="38" y1="351.5" x2="72" y2="351.5" stroke="#333" stroke-width="0.7"/>
<line x1="82" y1="351.5" x2="114.6" y2="351.5" stroke="#333" stroke-width="0.7"/>
<line x1="122" y1="351.5" x2="155" y2="351.5" stroke="#333" stroke-width="0.7"/>
<text x="59" y="360.2" font-size="7.4" text-anchor="middle" font-weight="normal" fill="#000">pre-pro B</text>
<text x="99.3" y="360.2" font-size="7.4" text-anchor="middle" font-weight="normal" fill="#000">pro B</text>
<text x="139.3" y="360.2" font-size="7.4" text-anchor="middle" font-weight="normal" fill="#000">pre B</text>
<text x="17.6" y="312.8" font-size="7.35" text-anchor="middle" font-weight="normal" transform="rotate(-90 17.6 312.8)" dy="2.65">% of Annexin V+ cells in B cells</text>
<rect x="111.6" y="264.8" width="12.2" height="4.4" fill="#fff" stroke="#000" stroke-width="0.8"/>
<rect x="111.6" y="274.8" width="12.2" height="4.4" fill="#000" stroke="#000" stroke-width="0.8"/>
<text x="126" y="269.6" font-size="7.2" text-anchor="start" font-weight="normal" fill="#000">WT</text>
<text x="126" y="279.6" font-size="7.2" text-anchor="start" font-weight="normal" fill="#000">Wip1 KO</text>
<line x1="201.5" y1="257.6" x2="201.5" y2="349.4" stroke="#000" stroke-width="1"/>
<line x1="198.9" y1="258.5" x2="201.4" y2="258.5" stroke="#000" stroke-width="1"/>
<text x="197.9" y="260.376" font-size="6.6" text-anchor="end" font-weight="bold" fill="#000">4</text>
<line x1="198.9" y1="280.5" x2="201.4" y2="280.5" stroke="#000" stroke-width="1"/>
<text x="197.9" y="283.126" font-size="6.6" text-anchor="end" font-weight="bold" fill="#000">3</text>
<line x1="198.9" y1="303.5" x2="201.4" y2="303.5" stroke="#000" stroke-width="1"/>
<text x="197.9" y="305.876" font-size="6.6" text-anchor="end" font-weight="bold" fill="#000">2</text>
<line x1="198.9" y1="326.5" x2="201.4" y2="326.5" stroke="#000" stroke-width="1"/>
<text x="197.9" y="328.626" font-size="6.6" text-anchor="end" font-weight="bold" fill="#000">1</text>
<line x1="198.9" y1="349.5" x2="201.4" y2="349.5" stroke="#000" stroke-width="1"/>
<text x="197.9" y="351.376" font-size="6.6" text-anchor="end" font-weight="bold" fill="#000">0</text>
<line x1="201" y1="349.5" x2="288" y2="349.5" stroke="#000" stroke-width="1"/>
<line x1="215.5" y1="349" x2="215.5" y2="350.8" stroke="#000" stroke-width="1"/>
<line x1="235.5" y1="349" x2="235.5" y2="350.8" stroke="#000" stroke-width="1"/>
<line x1="255.5" y1="349" x2="255.5" y2="350.8" stroke="#000" stroke-width="1"/>
<line x1="275.5" y1="349" x2="275.5" y2="350.8" stroke="#000" stroke-width="1"/>
<line x1="215.5" y1="309.4" x2="215.5" y2="303.4" stroke="#222" stroke-width="1"/>
<line x1="212.86499999999998" y1="303.5" x2="218.535" y2="303.5" stroke="#222" stroke-width="1"/>
<rect x="209.5" y="309.5" width="12.0" height="40.0" fill="#fff" stroke="#000" stroke-width="1"/>
<line x1="235.5" y1="283" x2="235.5" y2="276" stroke="#222" stroke-width="1"/>
<line x1="232.17499999999998" y1="276.5" x2="238.025" y2="276.5" stroke="#222" stroke-width="1"/>
<rect x="229.5" y="283.5" width="12.0" height="66.0" fill="#000" stroke="#000" stroke-width="1"/>
<line x1="255.5" y1="317.4" x2="255.5" y2="314.5" stroke="#222" stroke-width="1"/>
<line x1="252.175" y1="314.5" x2="258.02500000000003" y2="314.5" stroke="#222" stroke-width="1"/>
<rect x="249.5" y="317.5" width="12.0" height="32.0" fill="#bbb" stroke="#000" stroke-width="1"/>
<line x1="274.5" y1="320.6" x2="274.5" y2="316.4" stroke="#222" stroke-width="1"/>
<line x1="271.83" y1="316.5" x2="277.7699999999999" y2="316.5" stroke="#222" stroke-width="1"/>
<rect x="268.5" y="321.5" width="12.0" height="28.0" fill="#444" stroke="#000" stroke-width="1"/>
<line x1="211.4" y1="271.5" x2="236" y2="271.5" stroke="#333" stroke-width="1.2"/>
<text x="222.3" y="270.9" font-size="7.5" text-anchor="middle" font-weight="bold" fill="#000" class="st">*</text>
<line x1="232.8" y1="259.5" x2="279.6" y2="259.5" stroke="#444" stroke-width="1.3"/>
<text x="255.5" y="258.3" font-size="7.5" text-anchor="middle" font-weight="bold" fill="#000" class="st">***</text>
<text x="187" y="309" font-size="7.35" text-anchor="middle" font-weight="normal" transform="rotate(-90 187 309)" dy="2.65">% of Annexin V+ cells in pre B cells</text>
<text x="216.5" y="356.3" font-size="6.2" text-anchor="end" font-weight="bold" transform="rotate(-45 216.5 356.3)">WT</text>
<text x="235.5" y="356.3" font-size="6.2" text-anchor="end" font-weight="bold" transform="rotate(-45 235.5 356.3)">Wip1 KO</text>
<text x="255.8" y="356" font-size="6.2" text-anchor="end" font-weight="bold" transform="rotate(-45 255.8 356)">P53 KO</text>
<text x="275.8" y="356.2" font-size="6.1" text-anchor="end" font-weight="bold" transform="rotate(-45 275.8 356.2)">Wip1/P53 DKO</text>
<line x1="327.5" y1="255.6" x2="327.5" y2="346.4" stroke="#000" stroke-width="1"/>
<line x1="324.5" y1="256.5" x2="327" y2="256.5" stroke="#000" stroke-width="1"/>
<text x="323.5" y="258.376" font-size="6.6" text-anchor="end" font-weight="bold" fill="#000">4</text>
<line x1="324.5" y1="278.5" x2="327" y2="278.5" stroke="#000" stroke-width="1"/>
<text x="323.5" y="280.876" font-size="6.6" text-anchor="end" font-weight="bold" fill="#000">3</text>
<line x1="324.5" y1="301.5" x2="327" y2="301.5" stroke="#000" stroke-width="1"/>
<text x="323.5" y="303.376" font-size="6.6" text-anchor="end" font-weight="bold" fill="#000">2</text>
<line x1="324.5" y1="323.5" x2="327" y2="323.5" stroke="#000" stroke-width="1"/>
<text x="323.5" y="325.876" font-size="6.6" text-anchor="end" font-weight="bold" fill="#000">1</text>
<line x1="324.5" y1="346.5" x2="327" y2="346.5" stroke="#000" stroke-width="1"/>
<text x="323.5" y="348.376" font-size="6.6" text-anchor="end" font-weight="bold" fill="#000">0</text>
<line x1="326.6" y1="346.5" x2="399.6" y2="346.5" stroke="#000" stroke-width="1"/>
<line x1="336.5" y1="346" x2="336.5" y2="348" stroke="#000" stroke-width="1"/>
<line x1="354.5" y1="346" x2="354.5" y2="348" stroke="#000" stroke-width="1"/>
<line x1="372.5" y1="346" x2="372.5" y2="348" stroke="#000" stroke-width="1"/>
<line x1="390.5" y1="346" x2="390.5" y2="348" stroke="#000" stroke-width="1"/>
<line x1="336.5" y1="312.2" x2="336.5" y2="307.4" stroke="#222" stroke-width="1"/>
<line x1="333.7" y1="307.5" x2="339.09999999999997" y2="307.5" stroke="#222" stroke-width="1"/>
<rect x="330.5" y="312.5" width="11.0" height="34.0" fill="#fff" stroke="#000" stroke-width="1"/>
<line x1="354.5" y1="285" x2="354.5" y2="278.4" stroke="#222" stroke-width="1"/>
<line x1="351.7" y1="278.5" x2="357.09999999999997" y2="278.5" stroke="#222" stroke-width="1"/>
<rect x="348.5" y="285.5" width="11.0" height="61.0" fill="#000" stroke="#000" stroke-width="1"/>
<line x1="372.5" y1="316.5" x2="372.5" y2="314.4" stroke="#222" stroke-width="1"/>
<line x1="369.755" y1="314.5" x2="375.245" y2="314.5" stroke="#222" stroke-width="1"/>
<rect x="366.5" y="317.5" width="12.0" height="29.0" fill="#999" stroke="#000" stroke-width="1"/>
<line x1="390.5" y1="295" x2="390.5" y2="291.4" stroke="#222" stroke-width="1"/>
<line x1="387.865" y1="291.5" x2="393.53499999999997" y2="291.5" stroke="#222" stroke-width="1"/>
<rect x="384.5" y="295.5" width="12.0" height="51.0" fill="#666" stroke="#000" stroke-width="1"/>
<line x1="334.4" y1="262.5" x2="390.6" y2="262.5" stroke="#444" stroke-width="1.3"/>
<text x="360.1" y="259.8" font-size="7.5" text-anchor="middle" font-weight="bold" fill="#000" class="st">*</text>
<line x1="334.4" y1="272.5" x2="358" y2="272.5" stroke="#333" stroke-width="1.2"/>
<text x="346.6" y="272.1" font-size="7.5" text-anchor="middle" font-weight="bold" fill="#000" class="st">**</text>
<text x="310" y="310" font-size="7.45" text-anchor="middle" font-weight="normal" transform="rotate(-90 310 310)" dy="2.68">% of Annexin V+ cells in pre B cells</text>
<text x="338" y="355.6" font-size="6.4" text-anchor="end" font-weight="bold" transform="rotate(-45 338 355.6)">WT</text>
<text x="355.8" y="355.6" font-size="6.4" text-anchor="end" font-weight="bold" transform="rotate(-45 355.8 355.6)">Wip1 KO</text>
<text x="374.3" y="355.6" font-size="6.4" text-anchor="end" font-weight="bold" transform="rotate(-45 374.3 355.6)">P21 KO</text>
<text x="392" y="355.4" font-size="6.4" text-anchor="end" font-weight="bold" transform="rotate(-45 392 355.4)">Wip1/P21 KO</text>
<line x1="442.5" y1="259.6" x2="442.5" y2="346.79999999999995" stroke="#000" stroke-width="1"/>
<line x1="439.5" y1="260.5" x2="442" y2="260.5" stroke="#000" stroke-width="1"/>
<text x="438.5" y="262.268" font-size="6.3" text-anchor="end" font-weight="bold" fill="#000">2.5</text>
<line x1="439.5" y1="277.5" x2="442" y2="277.5" stroke="#000" stroke-width="1"/>
<text x="438.5" y="279.568" font-size="6.3" text-anchor="end" font-weight="bold" fill="#000">2.0</text>
<line x1="439.5" y1="294.5" x2="442" y2="294.5" stroke="#000" stroke-width="1"/>
<text x="438.5" y="296.868" font-size="6.3" text-anchor="end" font-weight="bold" fill="#000">1.5</text>
<line x1="439.5" y1="311.5" x2="442" y2="311.5" stroke="#000" stroke-width="1"/>
<text x="438.5" y="314.16799999999995" font-size="6.3" text-anchor="end" font-weight="bold" fill="#000">1.0</text>
<line x1="439.5" y1="329.5" x2="442" y2="329.5" stroke="#000" stroke-width="1"/>
<text x="438.5" y="331.46799999999996" font-size="6.3" text-anchor="end" font-weight="bold" fill="#000">0.5</text>
<line x1="439.5" y1="346.5" x2="442" y2="346.5" stroke="#000" stroke-width="1"/>
<text x="438.5" y="348.768" font-size="6.3" text-anchor="end" font-weight="bold" fill="#000">0.0</text>
<line x1="441.6" y1="346.5" x2="515" y2="346.5" stroke="#000" stroke-width="1"/>
<line x1="452.5" y1="346.4" x2="452.5" y2="348.2" stroke="#000" stroke-width="1"/>
<line x1="470.5" y1="346.4" x2="470.5" y2="348.2" stroke="#000" stroke-width="1"/>
<line x1="489.5" y1="346.4" x2="489.5" y2="348.2" stroke="#000" stroke-width="1"/>
<line x1="507.5" y1="346.4" x2="507.5" y2="348.2" stroke="#000" stroke-width="1"/>
<line x1="452.5" y1="283.4" x2="452.5" y2="276.6" stroke="#222" stroke-width="1"/>
<line x1="449.7" y1="276.5" x2="455.09999999999997" y2="276.5" stroke="#222" stroke-width="1"/>
<rect x="446.5" y="283.5" width="11.0" height="63.0" fill="#fff" stroke="#000" stroke-width="1"/>
<line x1="470.5" y1="278" x2="470.5" y2="265" stroke="#222" stroke-width="1"/>
<line x1="467.90000000000003" y1="265.5" x2="473.3" y2="265.5" stroke="#222" stroke-width="1"/>
<rect x="465.5" y="278.5" width="11.0" height="68.0" fill="#000" stroke="#000" stroke-width="1"/>
<line x1="489.5" y1="291" x2="489.5" y2="281.4" stroke="#222" stroke-width="1"/>
<line x1="486.3" y1="281.5" x2="491.7" y2="281.5" stroke="#222" stroke-width="1"/>
<rect x="483.5" y="291.5" width="11.0" height="55.0" fill="#999" stroke="#000" stroke-width="1"/>
<line x1="507.5" y1="290.4" x2="507.5" y2="282.4" stroke="#222" stroke-width="1"/>
<line x1="504.755" y1="282.5" x2="510.245" y2="282.5" stroke="#222" stroke-width="1"/>
<rect x="501.5" y="290.5" width="12.0" height="56.0" fill="#666" stroke="#000" stroke-width="1"/>
<line x1="449" y1="253.5" x2="514.4" y2="253.5" stroke="#333" stroke-width="1.3"/>
<text x="507.6" y="248.2" font-size="7" text-anchor="middle" font-weight="normal" fill="#000">NS</text>
<line x1="449" y1="262.5" x2="487.6" y2="262.5" stroke="#333" stroke-width="1.3"/>
<text x="466" y="261" font-size="7" text-anchor="middle" font-weight="normal" fill="#000">NS</text>
<text x="414.8" y="303.2" font-size="6.9" text-anchor="middle" transform="rotate(-90 414.8 303.2)" dy="2.4">% of Annexin v<tspan font-size="4.5" dy="-2.4">+</tspan><tspan dy="2.4"> cells</tspan></text>
<text x="424.4" y="301.2" font-size="7.4" text-anchor="middle" font-weight="normal" transform="rotate(-90 424.4 301.2)" dy="2.66">in pro B cells</text>
<text x="454" y="356.2" font-size="6.3" text-anchor="end" font-weight="bold" transform="rotate(-45 454 356.2)">WT</text>
<text x="472" y="356.2" font-size="6.3" text-anchor="end" font-weight="bold" transform="rotate(-45 472 356.2)">Wip1 KO</text>
<text x="490.8" y="356.2" font-size="6.3" text-anchor="end" font-weight="bold" transform="rotate(-45 490.8 356.2)">P53 KO</text>
<text x="509.5" y="356" font-size="6.3" text-anchor="end" font-weight="bold" transform="rotate(-45 509.5 356)">Wip1/P53 DKO</text>
</svg>
</body></html>
